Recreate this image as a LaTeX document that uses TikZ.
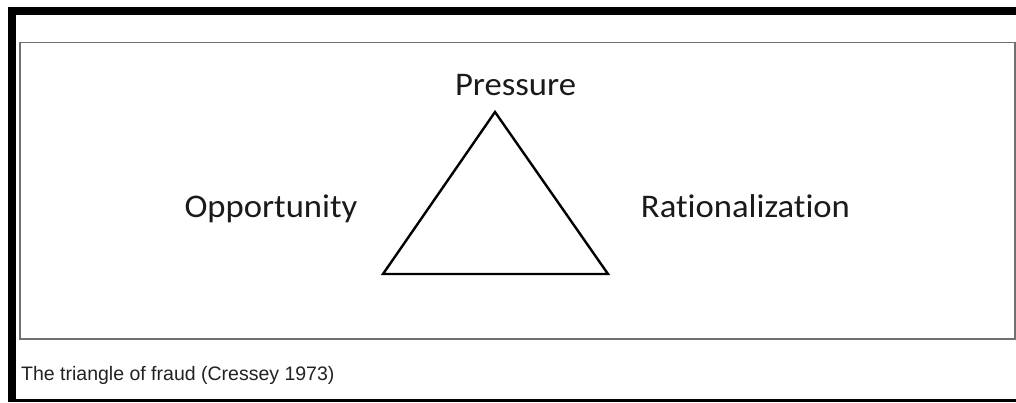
\documentclass[tikz,border=0pt]{standalone}
\usepackage{fontspec}
\setmainfont[Ligatures={NoCommon}]{Carlito}
\newfontfamily\capfont{Liberation Sans}
\definecolor{boxgray}{HTML}{707070}
\definecolor{captxt}{HTML}{222222}
\definecolor{lbltxt}{HTML}{1A1A1A}
\newcommand{\widen}[1]{\scalebox{1.05}[1]{#1}}
\begin{document}
\begin{tikzpicture}[x=1pt,y=-1pt,
  lbl/.style={font=\fontsize{33}{36}\selectfont, text=lbltxt, anchor=base, inner sep=0pt},
  captext/.style={font=\capfont\fontsize{19.5}{22}\selectfont, text=captxt, anchor=base west, inner sep=0pt},
  frameband/.style={fill=black, draw=none},
  tri/.style={draw=black, line width=2.4pt, line join=miter}]
\useasboundingbox (0,0) rectangle (1016,402);
\fill[white] (0,0) rectangle (1016,402);
% outer black frame
\path[frameband] (8,7) rectangle (1016,15);
\path[frameband] (8,7) rectangle (16,402);
\path[frameband] (8,399) rectangle (1016,402);
% inner box
\draw[boxgray, line width=1.6pt] (20,42.5) rectangle (1015,339);
% triangle
\coordinate (apex) at (495,112);
\coordinate (bl) at (383,274);
\coordinate (br) at (608,274);
\draw[tri] (apex) -- (bl) -- (br) -- cycle;
% labels
\node[lbl] (pressure) at (515.5,95) {\widen{Pressure}};
\node[lbl] (opportunity) at (271,217) {\widen{Opportunity}};
\node[lbl] (rational) at (745.5,217) {\widen{Rationalization}};
\node[captext] (caption) at (21,380) {The triangle of fraud (Cressey 1973)};
\end{tikzpicture}
\end{document}
